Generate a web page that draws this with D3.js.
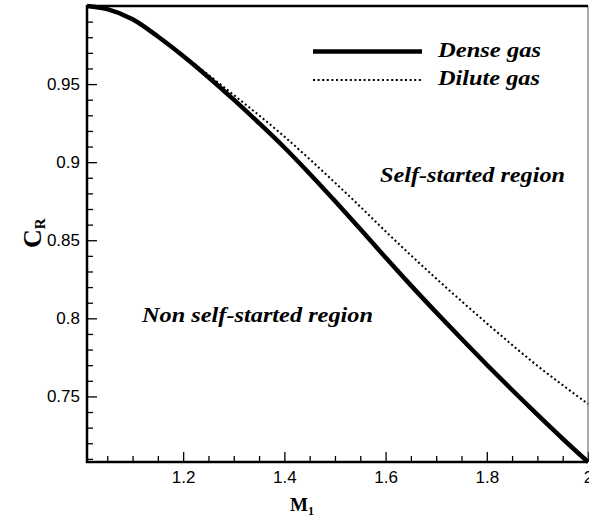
<!DOCTYPE html>
<html lang="en">
<head>
  <meta charset="UTF-8">
  <title>CR vs M1</title>
  <script src="https://cdn.jsdelivr.net/npm/d3@7"></script>
  <style>
    body { margin: 0; background: #fff; }
    .tick text { font-family: "Liberation Sans", Arial, sans-serif; font-size: 17px; fill: #000; }
    .serif { font-family: "Liberation Serif", "Times New Roman", serif; font-weight: bold; }
  </style>
</head>
<body>
  <svg width="589" height="520"></svg>
  <script>
    // values
    var machValues = [1.01, 1.05, 1.1, 1.15, 1.2, 1.25, 1.3, 1.35, 1.4, 1.45, 1.5, 1.55, 1.6, 1.65, 1.7, 1.75, 1.8, 1.85, 1.9, 1.95, 2.0];
    var denseCR  = [1.0, 0.998, 0.9915, 0.9805, 0.968, 0.9544, 0.94, 0.925, 0.9094, 0.8926, 0.8751, 0.8572, 0.8389, 0.8211, 0.8038, 0.7869, 0.7703, 0.7541, 0.7383, 0.7229, 0.708];
    var diluteCR = [1.0, 0.998, 0.9915, 0.9805, 0.9685, 0.9559, 0.943, 0.93, 0.9164, 0.9019, 0.8869, 0.8715, 0.8557, 0.8404, 0.8255, 0.811, 0.7968, 0.783, 0.7696, 0.7572, 0.7452];
    var xTickValues = [1.2, 1.4, 1.6, 1.8, 2];
    var xTickLabels = ['1.2', '1.4', '1.6', '1.8', '2'];
    var yTickValues = [0.75, 0.8, 0.85, 0.9, 0.95];
    var yTickLabels = ['0.75', '0.8', '0.85', '0.9', '0.95'];
    var seriesNames = ['Dense gas', 'Dilute gas'];

    var svg = d3.select('svg');
    var margin = {top: 6, right: 1, bottom: 58, left: 87};
    var width = svg.attr('width') - margin.left - margin.right;
    var height = svg.attr('height') - margin.top - margin.bottom;
    var chart = svg.append('g')
      .attr('transform', 'translate(' + margin.left + ',' + margin.top + ')');

    var xScale = d3.scaleLinear().domain([1.01, 2.0]).range([0, width]);
    var yScale = d3.scaleLinear().domain([0.708, 1.0]).range([height, 0]);

    // minor ticks
    var xMinor = d3.range(1.05, 2.0, 0.05).filter(function(v) {
      return Math.abs(v * 5 - Math.round(v * 5)) > 1e-6;
    });
    var yMinor = d3.range(0.71, 1.0, 0.01).filter(function(v) {
      return Math.abs(v * 20 - Math.round(v * 20)) > 1e-6;
    });

    chart.append('g')
      .attr('transform', 'translate(0,' + height + ')')
      .call(d3.axisBottom(xScale).tickValues(xMinor).tickSize(-6).tickFormat(''))
      .call(function(g) { g.select('.domain').remove(); });
    chart.append('g')
      .attr('transform', 'translate(0,' + height + ')')
      .call(d3.axisBottom(xScale).tickValues(xTickValues).tickSize(-10).tickPadding(9)
        .tickFormat(function(d, i) { return xTickLabels[i]; }))
      .call(function(g) { g.select('.domain').remove(); });

    chart.append('g')
      .call(d3.axisLeft(yScale).tickValues(yMinor).tickSize(-6).tickFormat(''))
      .call(function(g) { g.select('.domain').remove(); });
    chart.append('g')
      .call(d3.axisLeft(yScale).tickValues(yTickValues).tickSize(-10).tickPadding(7)
        .tickFormat(function(d, i) { return yTickLabels[i]; }))
      .call(function(g) { g.select('.domain').remove(); });

    chart.selectAll('.tick line').attr('stroke', '#000').attr('stroke-width', 1.3);

    // frame
    chart.append('line').attr('x1', width).attr('x2', width).attr('y1', 0).attr('y2', height)
      .attr('stroke', '#555').attr('stroke-width', 1);
    chart.append('line').attr('x1', 0).attr('x2', width).attr('y1', 0).attr('y2', 0)
      .attr('stroke', '#000').attr('stroke-width', 2.5);
    chart.append('line').attr('x1', 0).attr('x2', 0).attr('y1', -1).attr('y2', height + 1)
      .attr('stroke', '#000').attr('stroke-width', 2.5);
    chart.append('line').attr('x1', -1).attr('x2', width).attr('y1', height).attr('y2', height)
      .attr('stroke', '#000').attr('stroke-width', 2.5);

    var line = d3.line().curve(d3.curveMonotoneX)
      .x(function(d) { return xScale(d[0]); })
      .y(function(d) { return yScale(d[1]); });

    chart.append('path')
      .datum(d3.zip(machValues, diluteCR))
      .attr('fill', 'none').attr('stroke', '#000')
      .attr('stroke-width', 2).attr('stroke-dasharray', '2,2.6')
      .attr('d', line);
    chart.append('path')
      .datum(d3.zip(machValues, denseCR))
      .attr('fill', 'none').attr('stroke', '#000')
      .attr('stroke-width', 4.5)
      .attr('d', line);

    // legend
    svg.append('line').attr('x1', 313).attr('x2', 422).attr('y1', 51.5).attr('y2', 51.5)
      .attr('stroke', '#000').attr('stroke-width', 4.5);
    svg.append('line').attr('x1', 313).attr('x2', 422).attr('y1', 80).attr('y2', 80)
      .attr('stroke', '#000').attr('stroke-width', 2).attr('stroke-dasharray', '2,2.6');

    function label(x, y, text, w) {
      svg.append('text').attr('class', 'serif')
        .attr('x', x).attr('y', y)
        .attr('font-size', 20).attr('font-style', 'italic')
        .attr('textLength', w).attr('lengthAdjust', 'spacingAndGlyphs')
        .text(text);
    }
    label(438, 57, seriesNames[0], 103);
    label(438, 85, seriesNames[1], 102);
    label(380, 182, 'Self-started region', 185);
    label(142, 322, 'Non self-started region', 231);

    // axis titles
    var xt = svg.append('text').attr('class', 'serif')
      .attr('x', 290).attr('y', 511).attr('font-size', 19);
    xt.append('tspan').text('M');
    xt.append('tspan').attr('font-size', 12).attr('dy', 4).text('1');

    var yt = svg.append('text').attr('class', 'serif')
      .attr('transform', 'translate(41,248) rotate(-90)')
      .attr('font-size', 26);
    yt.append('tspan').text('C');
    yt.append('tspan').attr('font-size', 15).attr('dy', 4).text('R');
  </script>
</body>
</html>
